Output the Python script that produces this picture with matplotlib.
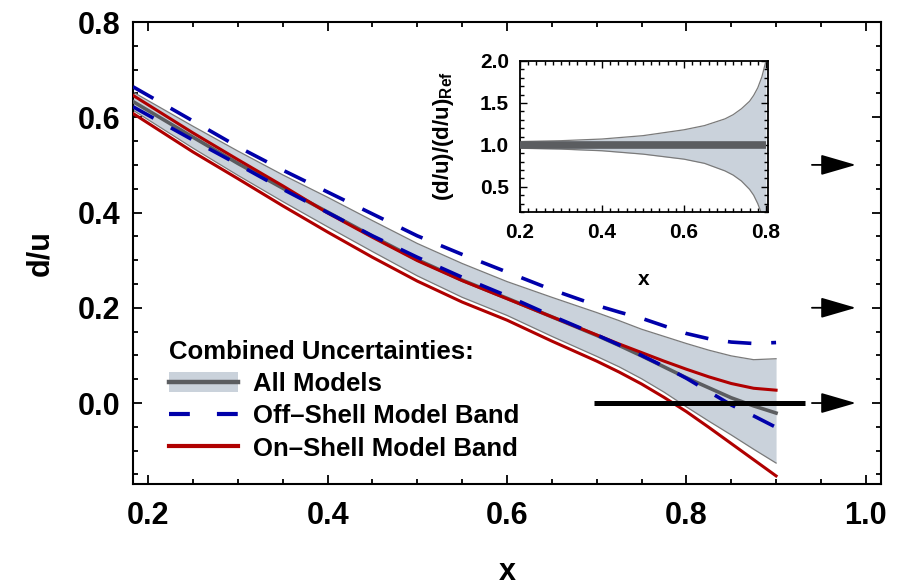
import matplotlib
matplotlib.use("Agg")
import matplotlib.pyplot as plt
import numpy as np
from matplotlib.ticker import MultipleLocator, FormatStrFormatter
from matplotlib.patches import Patch
from matplotlib.lines import Line2D
from matplotlib.legend_handler import HandlerTuple

plt.rcParams['font.family'] = ['Liberation Sans', 'DejaVu Sans']
plt.rcParams['font.weight'] = 'bold'
plt.rcParams['mathtext.fontset'] = 'custom'
plt.rcParams['mathtext.rm'] = 'Liberation Sans:bold'
plt.rcParams['mathtext.bf'] = 'Liberation Sans:bold'

# ---------------- data ----------------
x = [0.183, 0.25, 0.30, 0.35, 0.40, 0.45, 0.50, 0.55, 0.60, 0.65, 0.70, 0.725, 0.75, 0.775, 0.80, 0.825, 0.85, 0.875, 0.90]
all_upper = [0.653, 0.581, 0.529, 0.479, 0.432, 0.383, 0.335, 0.293, 0.255, 0.222, 0.190, 0.173, 0.155, 0.140, 0.125, 0.111, 0.099, 0.091, 0.093]
all_lower = [0.615, 0.535, 0.478, 0.423, 0.370, 0.318, 0.267, 0.222, 0.184, 0.140, 0.098, 0.076, 0.051, 0.023, -0.008, -0.038, -0.067, -0.097, -0.126]
all_center = [0.633, 0.558, 0.503, 0.451, 0.401, 0.350, 0.301, 0.258, 0.220, 0.181, 0.142, 0.121, 0.099, 0.076, 0.053, 0.032, 0.011, -0.006, -0.021]
off_upper = [0.664, 0.592, 0.538, 0.489, 0.443, 0.397, 0.351, 0.312, 0.275, 0.238, 0.205, 0.191, 0.178, 0.162, 0.146, 0.135, 0.128, 0.125, 0.127]
off_lower = [0.622, 0.552, 0.501, 0.449, 0.400, 0.351, 0.306, 0.264, 0.225, 0.183, 0.143, 0.122, 0.100, 0.077, 0.052, 0.024, -0.004, -0.027, -0.051]
on_upper = [0.646, 0.567, 0.511, 0.456, 0.399, 0.348, 0.299, 0.257, 0.219, 0.181, 0.143, 0.124, 0.106, 0.088, 0.071, 0.055, 0.041, 0.031, 0.027]
on_lower = [0.608, 0.527, 0.471, 0.414, 0.359, 0.306, 0.256, 0.212, 0.174, 0.130, 0.088, 0.065, 0.040, 0.012, -0.018, -0.051, -0.085, -0.119, -0.153]

# inset: ratio to reference
xr = [0.20, 0.30, 0.40, 0.50, 0.60, 0.65, 0.70, 0.72, 0.74, 0.76, 0.77, 0.78, 0.79, 0.80]
ratio_upper = [1.04, 1.05, 1.07, 1.11, 1.18, 1.23, 1.31, 1.36, 1.43, 1.52, 1.59, 1.68, 1.81, 2.00]
ratio_lower = [0.96, 0.95, 0.93, 0.89, 0.83, 0.78, 0.69, 0.64, 0.57, 0.47, 0.40, 0.30, 0.17, 0.02]
ratio_ref = 1.0

# decorations
zero_line_x = [0.697, 0.932]
arrow_y = [0.5, 0.2, 0.0]
arrow_x = [0.940, 0.989]

xticks = [0.2, 0.4, 0.6, 0.8, 1.0]
yticks = [0.0, 0.2, 0.4, 0.6, 0.8]
inset_xticks = [0.2, 0.4, 0.6, 0.8]
inset_yticks = [0.5, 1.0, 1.5, 2.0]

# ---------------- styles ----------------
FILL = '#cad2db'
EDGE = '#7a7a7a'
CENTER = '#5b5d60'
BLUE = '#0000aa'
RED = '#b00000'

W, H = 901, 587
fig = plt.figure(figsize=(W / 100, H / 100), dpi=100)
ax = fig.add_axes([133 / W, 1 - 484 / H, (881 - 133) / W, (484 - 22) / H])

ax.fill_between(x, all_lower, all_upper, color=FILL, lw=0, zorder=1)
ax.plot(x, all_upper, color=EDGE, lw=0.9, zorder=2)
ax.plot(x, all_lower, color=EDGE, lw=0.9, zorder=2)
ax.plot(x, all_center, color=CENTER, lw=2.6, zorder=3)
ax.plot(x, on_upper, color=RED, lw=2.2, zorder=4)
ax.plot(x, on_lower, color=RED, lw=2.2, zorder=4)
dash = (0, (6.5, 5.5))
ax.plot(x, off_upper, color=BLUE, lw=2.6, ls=dash, zorder=5)
ax.plot(x, off_lower, color=BLUE, lw=2.6, ls=dash, zorder=5)

ax.plot(zero_line_x, [0, 0], color='black', lw=3.6, zorder=6, solid_capstyle='butt')
for yy in arrow_y:
    ax.annotate('', xy=(arrow_x[1], yy), xytext=(arrow_x[0], yy),
                arrowprops=dict(arrowstyle='-|>,head_length=1.1,head_width=0.32',
                                color='black', lw=1.3, mutation_scale=20,
                                shrinkA=0, shrinkB=0), zorder=7)

ax.set_xlim(0.183, 1.017)
ax.set_ylim(-0.17, 0.8)
ax.set_xticks(xticks)
ax.set_yticks(yticks)
ax.xaxis.set_major_formatter(FormatStrFormatter('%.1f'))
ax.yaxis.set_major_formatter(FormatStrFormatter('%.1f'))
ax.xaxis.set_minor_locator(MultipleLocator(0.05))
ax.yaxis.set_minor_locator(MultipleLocator(0.05))
ax.tick_params(which='both', direction='in', top=True, right=True, width=1.3, colors='black')
ax.tick_params(which='major', length=6.5)
ax.tick_params(which='minor', length=3.8)
ax.tick_params(axis='x', which='major', labelsize=22, pad=12)
ax.tick_params(axis='y', which='major', labelsize=22, pad=9)
for lab in ax.get_xticklabels() + ax.get_yticklabels():
    lab.set_fontweight('bold')
for s in ax.spines.values():
    s.set_linewidth(1.5)
ax.set_xlabel('x', fontsize=22, fontweight='bold', labelpad=19)
ax.set_ylabel('d/u', fontsize=22, fontweight='bold', labelpad=16)

# legend
h_all = (Patch(facecolor=FILL, edgecolor='none'), Line2D([], [], color=CENTER, lw=3.2))
h_off = Line2D([], [], color=BLUE, lw=3.0, ls=(0, (5, 6.5)))
h_on = Line2D([], [], color=RED, lw=3.0)
leg = ax.legend([h_all, h_off, h_on], ['All Models', 'Off–Shell Model Band', 'On–Shell Model Band'],
                handler_map={tuple: HandlerTuple(ndivide=1, pad=0)},
                loc='upper left', bbox_to_anchor=(169 / W, 1 - 340 / H), bbox_transform=fig.transFigure,
                frameon=False, fontsize=18.5, title='Combined Uncertainties:',
                title_fontproperties={'size': 18.5, 'weight': 'bold'}, alignment='left',
                handlelength=2.7, handleheight=0.8, handletextpad=0.55, labelspacing=0.32,
                borderpad=0, borderaxespad=0)
for t in leg.get_texts():
    t.set_fontweight('bold')

# inset
axi = fig.add_axes([520 / W, 1 - 212 / H, (768 - 520) / W, (212 - 61) / H])
axi.fill_between(xr, ratio_lower, ratio_upper, color=FILL, lw=0, zorder=1)
axi.plot(xr, ratio_upper, color=EDGE, lw=0.9, zorder=2)
axi.plot(xr, ratio_lower, color=EDGE, lw=0.9, zorder=2)
axi.plot([xr[0], xr[-1]], [ratio_ref, ratio_ref], color=CENTER, lw=5.5, zorder=3, solid_capstyle='butt')
axi.set_xlim(0.2, 0.805)
axi.set_ylim(0.2, 2.0)
axi.set_xticks(inset_xticks)
axi.set_yticks(inset_yticks)
axi.xaxis.set_major_formatter(FormatStrFormatter('%.1f'))
axi.yaxis.set_major_formatter(FormatStrFormatter('%.1f'))
axi.xaxis.set_minor_locator(MultipleLocator(0.02))
axi.yaxis.set_minor_locator(MultipleLocator(0.1))
axi.tick_params(which='both', direction='in', top=True, right=True, width=1.0)
axi.tick_params(which='major', length=5, labelsize=15, pad=8)
axi.tick_params(which='minor', length=2.8)
for lab in axi.get_xticklabels() + axi.get_yticklabels():
    lab.set_fontweight('bold')
for s in axi.spines.values():
    s.set_linewidth(1.3)
axi.set_xlabel('x', fontsize=15, fontweight='bold', labelpad=20)
axi.set_ylabel(r'(d/u)/(d/u)$_{\mathbf{Ref}}$', fontsize=16, fontweight='bold', labelpad=17)

fig.savefig('out.png', dpi=100)
